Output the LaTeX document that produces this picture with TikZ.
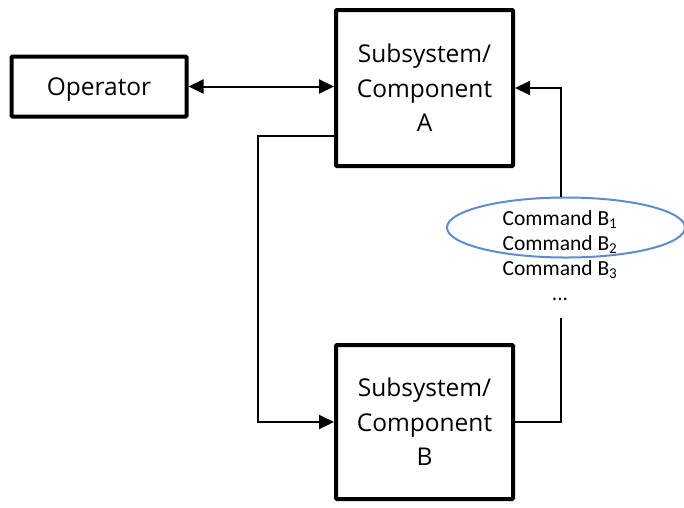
\documentclass[tikz,border=0pt]{standalone}
\usepackage{fontspec}
\setmainfont{Open Sans}
\newfontfamily\cmdfont{Carlito}
\usetikzlibrary{arrows.meta,shapes.geometric}
\tikzset{
  x=1pt, y=-1pt,
  tip/.tip={Triangle[length=15pt,width=14pt]},
  blockbox/.style={draw, line width=4pt, rounded corners=1pt, inner sep=0pt,
    align=center, font=\fontsize{24.5}{34.5}\selectfont},
  link/.style={line width=2pt, -tip},
  cmdtext/.style={anchor=base, inner sep=0pt, font=\cmdfont\fontsize{21.5}{25}\selectfont},
}
\definecolor{selblue}{RGB}{91,141,212}
\begin{document}
\begin{tikzpicture}
\useasboundingbox (0,0) rectangle (684,507);

% blocks
\node[blockbox, text depth=0pt, minimum width=175pt, minimum height=60pt] (op) at (99,86.5) {Operator};
\node[blockbox, minimum width=177pt, minimum height=156pt] (A) at (424.5,88) {Subsystem/\\Component\\A};
\node[blockbox, minimum width=177pt, minimum height=154pt] (B) at (424.5,422) {Subsystem/\\Component\\B};

% command list
\node[cmdtext] (c1) at (560,225) {Command B\textsubscript{1}};
\node[cmdtext] (c2) at (560,250) {Command B\textsubscript{2}};
\node[cmdtext] (c3) at (560,275) {Command B\textsubscript{3}};
\node[cmdtext] (c4) at (560,300) {...};
\node[draw=selblue, line width=2pt, ellipse, minimum width=238pt, minimum height=60pt, inner sep=0pt]
  (sel) at (566,227.5) {};

\coordinate (cTop) at (561,197);
\coordinate (cBot) at (561,318);
\coordinate (aOut) at (336,136);
\coordinate (bend) at (258,136);

% connectors
\draw[link, tip-tip] (op.east) -- (op.east -| A.west);
\draw[link] (aOut) -- (bend) |- (B.west);
\draw[line width=2pt] (B.east) -| (cBot);
\draw[link] (cTop) |- (A.east);
\end{tikzpicture}
\end{document}
